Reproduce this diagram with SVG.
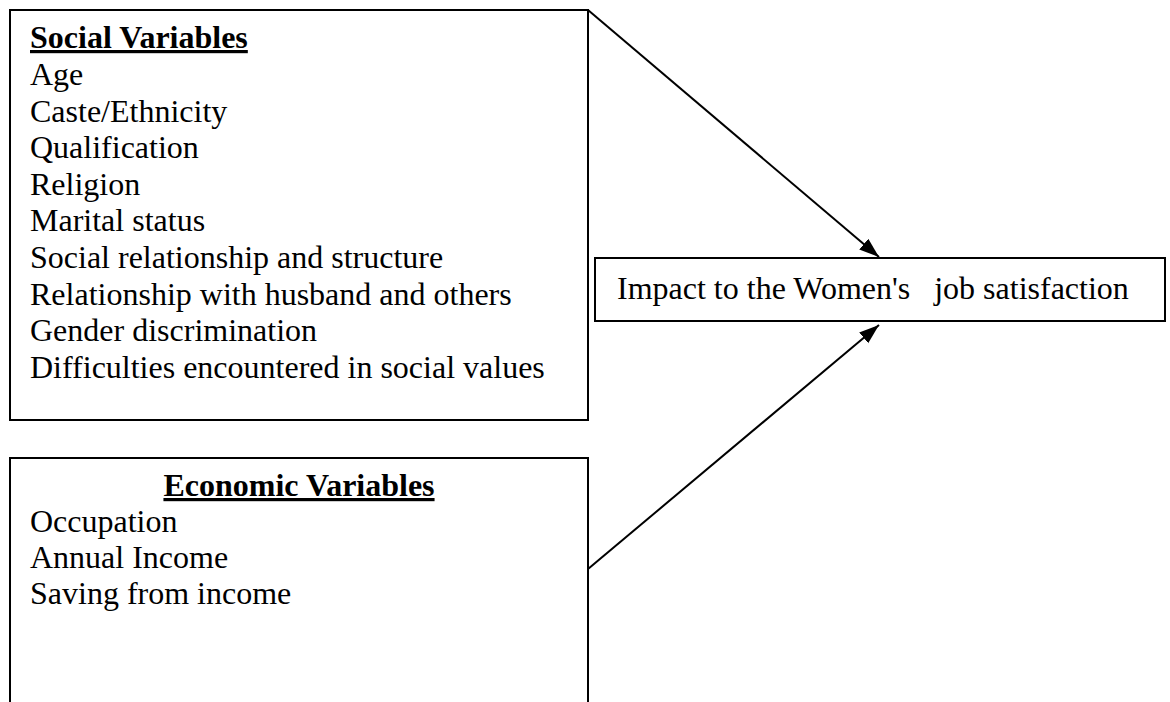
<svg xmlns="http://www.w3.org/2000/svg" width="1170" height="702" viewBox="0 0 1170 702">
<style>
.box{fill:#fff;stroke:#000;stroke-width:2}
.t{font-family:"Liberation Serif","Times New Roman",serif;font-size:32px;fill:#000}
.h{font-weight:bold;text-decoration:underline}
.c{stroke:#000;stroke-width:2;fill:none}
</style>
<defs>
<marker id="ah" markerUnits="userSpaceOnUse" markerWidth="22" markerHeight="16" refX="20" refY="7" orient="auto">
<path d="M0,0 L20,7 L0,14 z" fill="#000"/>
</marker>
</defs>
<rect width="1170" height="702" fill="#fff"/>
<g id="social">
<rect class="box" x="10" y="10" width="578" height="410"/>
<text class="t h" x="30" y="48">Social Variables</text>
<text class="t" x="30" y="85">Age</text>
<text class="t" x="30" y="121.6">Caste/Ethnicity</text>
<text class="t" x="30" y="158.2">Qualification</text>
<text class="t" x="30" y="194.8">Religion</text>
<text class="t" x="30" y="231.4">Marital status</text>
<text class="t" x="30" y="268">Social relationship and structure</text>
<text class="t" x="30" y="304.6">Relationship with husband and others</text>
<text class="t" x="30" y="341.2">Gender discrimination</text>
<text class="t" x="30" y="377.8">Difficulties encountered in social values</text>
</g>
<g id="economic">
<rect class="box" x="10" y="458" width="578" height="260"/>
<text class="t h" x="299" y="496" text-anchor="middle">Economic Variables</text>
<text class="t" x="30" y="532">Occupation</text>
<text class="t" x="30" y="568">Annual Income</text>
<text class="t" x="30" y="604">Saving from income</text>
</g>
<g id="impact">
<rect class="box" x="595" y="258" width="570" height="63"/>
<text class="t" x="617" y="299" xml:space="preserve">Impact to the Women's   job satisfaction</text>
</g>
<g id="connectors">
<line class="c" x1="588" y1="10" x2="879" y2="257" marker-end="url(#ah)"/>
<line class="c" x1="588" y1="569" x2="879" y2="325" marker-end="url(#ah)"/>
</g>
</svg>
